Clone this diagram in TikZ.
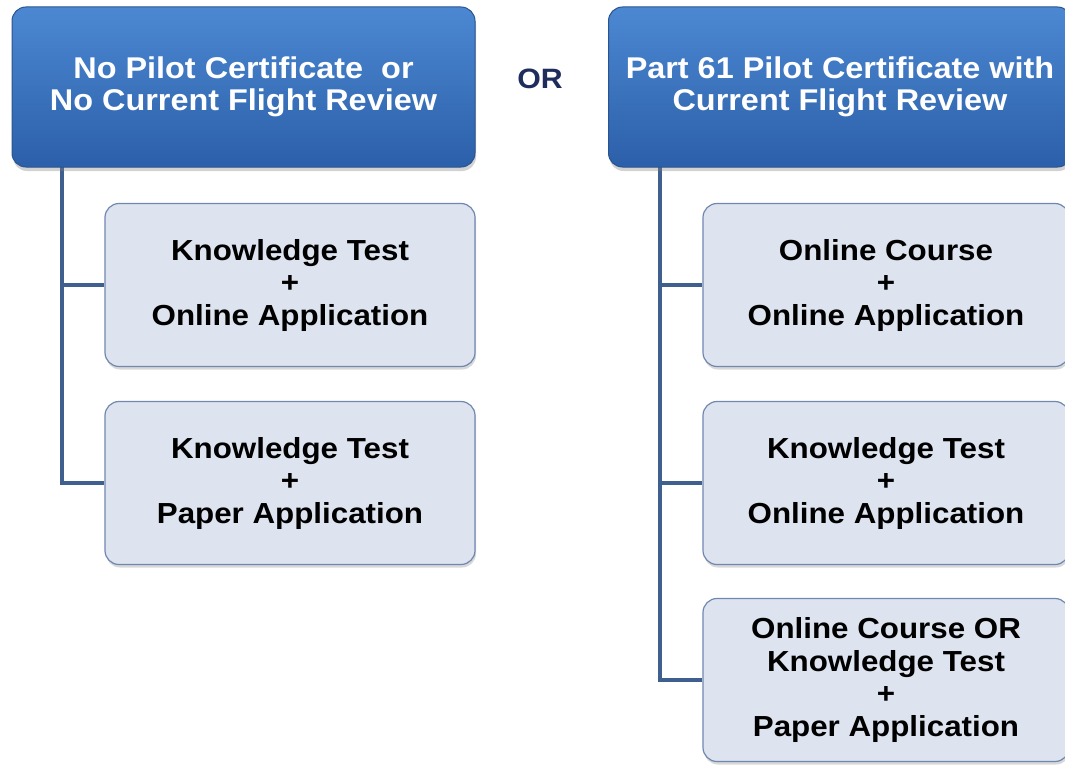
\documentclass[tikz,border=0pt]{standalone}
\usepackage{fontspec}
\setmainfont{Liberation Sans}[FakeStretch=1.08]
\usetikzlibrary{shadows,calc}
\definecolor{hdtop}{HTML}{4C88D2}
\definecolor{hdbot}{HTML}{2C5FA9}
\definecolor{hdline}{HTML}{2A5490}
\definecolor{chfill}{HTML}{DDE4EF}
\definecolor{chline}{HTML}{7088B0}
\definecolor{conn}{HTML}{3F5F8F}
\definecolor{ortext}{HTML}{1F2D5C}
\tikzset{
  header/.style={draw=hdline, line width=1pt, top color=hdtop, bottom color=hdbot,
    rounded corners=14pt, minimum width=463pt, minimum height=160pt, inner sep=0pt,
    align=center, text=white, font=\fontsize{30}{31.5}\selectfont\bfseries,
    drop shadow={shadow xshift=1pt, shadow yshift=-4pt, opacity=0.35}},
  child/.style={draw=chline, line width=1.2pt, fill=chfill,
    rounded corners=14pt, minimum width=370pt, minimum height=163pt, inner sep=0pt,
    align=center, text=black, font=\fontsize{29}{32.5}\selectfont\bfseries,
    drop shadow={shadow xshift=1pt, shadow yshift=-3pt, opacity=0.3}},
  connector/.style={draw=conn, line width=4pt},
  ortxt/.style={text=ortext, font=\fontsize{28}{30}\selectfont\bfseries}
}
\begin{document}
\begin{tikzpicture}[x=1pt,y=-1pt]
\useasboundingbox (0,0) rectangle (1065,765);
\clip (0,0) rectangle (1065,765);
\fill[white] (0,0) rectangle (1065,765);
% connectors first
\coordinate (lt) at (62,160);
\coordinate (rt) at (660,160);
\node[child] (Lc1) at (290,285) {Knowledge Test\\+\\Online Application};
\node[child] (Lc2) at (290,483) {Knowledge Test\\+\\Paper Application};
\node[child, minimum width=366pt] (Rc1) at (886,285) {Online Course\\+\\Online Application};
\node[child, minimum width=366pt] (Rc2) at (886,483) {Knowledge Test\\+\\Online Application};
\node[child, minimum width=366pt] (Rc3) at (886,680) {Online Course OR\\Knowledge Test\\+\\Paper Application};
\draw[connector] (lt) |- (Lc2.west);
\draw[connector] (lt |- Lc1.west) -- (Lc1.west);
\draw[connector] (rt) |- (Rc3.west);
\draw[connector] (rt |- Rc1.west) -- (Rc1.west);
\draw[connector] (rt |- Rc2.west) -- (Rc2.west);
\node[header] (Lh) at (243.5,87) {No Pilot Certificate\ \ or\\No Current Flight Review};
\node[header] (Rh) at (840,87) {Part 61 Pilot Certificate with\\Current Flight Review};
\node[ortxt] (or) at (540,79) {OR};
\end{tikzpicture}
\end{document}
